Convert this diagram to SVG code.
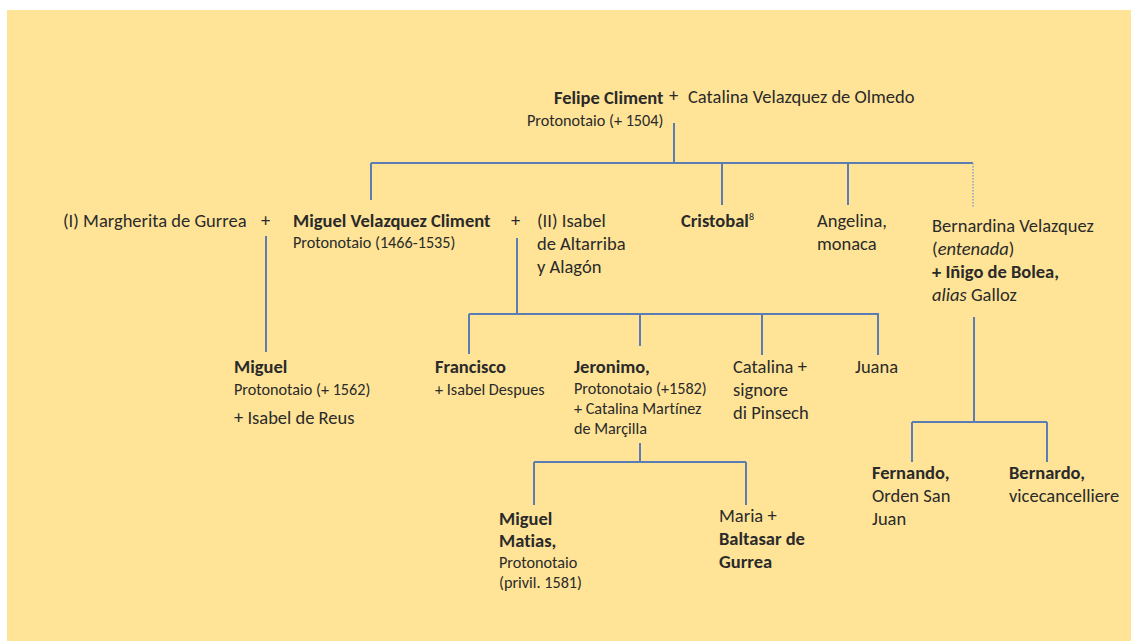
<svg xmlns="http://www.w3.org/2000/svg" width="1131" height="641" viewBox="0 0 1131 641">
  <style>
    text { font-family: Carlito, Lato, "Liberation Sans", sans-serif; fill: #2a2a2a; font-variant-ligatures: none; }
    .m { font-size: 18.5px; }
    .s { font-size: 16.2px; }
    .b { font-weight: bold; }
    .i { font-style: italic; }
    .ln { stroke: #5b7db3; stroke-width: 2; fill: none; }
    .dot { stroke: #8ea3c4; stroke-width: 1.5; stroke-dasharray: 1.5 1.5; fill: none; }
  </style>
  <rect x="0" y="0" width="1131" height="641" fill="#ffffff"/>
  <rect x="7" y="10" width="1124" height="631" fill="#ffe497"/>

  <g id="connectors">
    <!-- Felipe + Catalina to children -->
    <path class="ln" d="M674 123 V163 M371 163 H973 M371 163 V200 M722 163 V205 M848 163 V205"/>
    <path class="dot" d="M973 163 V208"/>
    <!-- first marriage -->
    <path class="ln" d="M266 236 V352"/>
    <!-- second marriage -->
    <path class="ln" d="M517 238 V314 M469 314 H879 M469 314 V354 M640 314 V346 M762 314 V355 M878 314 V355"/>
    <!-- Jeronimo's children -->
    <path class="ln" d="M640 443 V462 M534 462 H746 M534 462 V505 M746 462 V505"/>
    <!-- Bernardina's children -->
    <path class="ln" d="M974 317 V422 M912 422 H1047 M912 422 V462 M1047 422 V462"/>
  </g>

  <g id="felipe">
    <text class="m b" x="554" y="104">Felipe Climent</text>
    <text class="m" x="669" y="102">+</text>
    <text class="m" x="688" y="103">Catalina Velazquez de Olmedo</text>
    <text class="s" x="527" y="126">Protonotaio (+ 1504)</text>
  </g>

  <g id="margherita">
    <text class="m" x="63" y="227">(I) Margherita de Gurrea</text>
    <text class="m" x="261" y="227">+</text>
  </g>

  <g id="miguel-velazquez">
    <text class="m b" x="293" y="227">Miguel Velazquez Climent</text>
    <text class="s" x="293" y="248">Protonotaio (1466-1535)</text>
    <text class="m" x="511" y="227">+</text>
  </g>

  <g id="isabel-altarriba">
    <text class="m" x="537" y="227">(II) Isabel</text>
    <text class="m" x="537" y="250">de Altarriba</text>
    <text class="m" x="537" y="273">y Alagón</text>
  </g>

  <g id="cristobal">
    <text class="m b" x="681" y="227">Cristobal<tspan font-weight="normal" font-size="10" dy="-7">8</tspan></text>
  </g>

  <g id="angelina">
    <text class="m" x="817" y="227">Angelina,</text>
    <text class="m" x="817" y="250">monaca</text>
  </g>

  <g id="bernardina">
    <text class="m" x="932" y="232">Bernardina Velazquez</text>
    <text class="m" x="932" y="255">(<tspan class="i">entenada</tspan>)</text>
    <text class="m b" x="932" y="278">+ Iñigo de Bolea,</text>
    <text class="m" x="932" y="301"><tspan class="i">alias</tspan> Galloz</text>
  </g>

  <g id="miguel">
    <text class="m b" x="234" y="373">Miguel</text>
    <text class="s" x="234" y="395">Protonotaio (+ 1562)</text>
    <text class="m" x="234" y="424">+ Isabel de Reus</text>
  </g>

  <g id="francisco">
    <text class="m b" x="435" y="373">Francisco</text>
    <text class="s" x="435" y="395">+ Isabel Despues</text>
  </g>

  <g id="jeronimo">
    <text class="m b" x="574" y="373">Jeronimo,</text>
    <text class="s" x="574" y="394">Protonotaio (+1582)</text>
    <text class="s" x="574" y="414">+ Catalina Martínez</text>
    <text class="s" x="574" y="434">de Marçilla</text>
  </g>

  <g id="catalina">
    <text class="m" x="733" y="373">Catalina +</text>
    <text class="m" x="733" y="396">signore</text>
    <text class="m" x="733" y="419">di Pinsech</text>
  </g>

  <g id="juana">
    <text class="m" x="855" y="373">Juana</text>
  </g>

  <g id="miguel-matias">
    <text class="m b" x="499" y="525">Miguel</text>
    <text class="m b" x="499" y="547">Matias,</text>
    <text class="s" x="499" y="568">Protonotaio</text>
    <text class="s" x="499" y="588">(privil. 1581)</text>
  </g>

  <g id="maria">
    <text class="m" x="719" y="522">Maria +</text>
    <text class="m b" x="719" y="545">Baltasar de</text>
    <text class="m b" x="719" y="568">Gurrea</text>
  </g>

  <g id="fernando">
    <text class="m b" x="872" y="479">Fernando,</text>
    <text class="m" x="872" y="502">Orden San</text>
    <text class="m" x="872" y="525">Juan</text>
  </g>

  <g id="bernardo">
    <text class="m b" x="1009" y="479">Bernardo,</text>
    <text class="m" x="1009" y="502">vicecancelliere</text>
  </g>
</svg>
